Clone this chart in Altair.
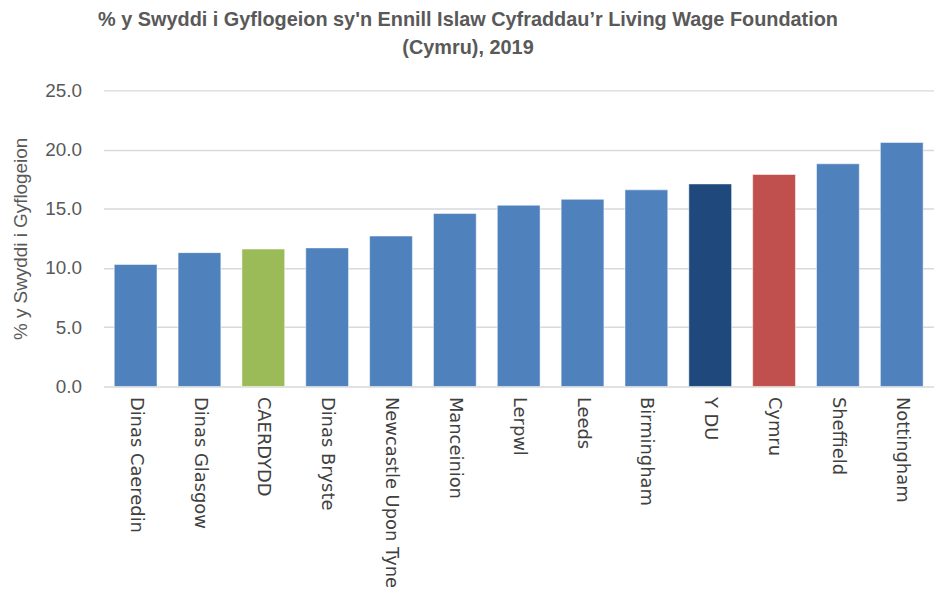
import altair as alt
import pandas as pd

categories = ["Dinas Caeredin", "Dinas Glasgow", "CAERDYDD", "Dinas Bryste",
              "Newcastle Upon Tyne", "Manceinion", "Lerpwl", "Leeds",
              "Birmingham", "Y DU", "Cymru", "Sheffield", "Nottingham"]
values = [10.3, 11.3, 11.6, 11.7, 12.7, 14.6, 15.3, 15.8, 16.6, 17.1, 17.9, 18.8, 20.6]
groups = ["city", "city", "cardiff", "city", "city", "city", "city", "city",
          "city", "uk", "wales", "city", "city"]

df = pd.DataFrame({"cat": categories, "val": values, "grp": groups})

color_scale = alt.Scale(domain=["city", "cardiff", "uk", "wales"],
                        range=["#4f81bd", "#9bbb59", "#1f497d", "#c0504d"])

chart = alt.Chart(df).mark_bar(stroke="#ffffff", strokeOpacity=0.5, strokeWidth=1).encode(
    x=alt.X("cat:N", sort=categories, title=None,
            scale=alt.Scale(paddingInner=0.33, paddingOuter=0.17),
            axis=alt.Axis(labelAngle=90, labelFont="DejaVu Sans", labelFontSize=18,
                          labelColor="#404040", labelPadding=10, ticks=False,
                          domain=False, labelAlign="left", labelBaseline="middle",
                          labelLimit=300)),
    y=alt.Y("val:Q", title="% y Swyddi i Gyflogeion",
            scale=alt.Scale(domain=[0, 25], nice=False),
            axis=alt.Axis(values=[0, 5, 10, 15, 20, 25], format=".1f",
                          labelFont="Liberation Sans", labelFontSize=19,
                          labelColor="#595959", labelPadding=22, ticks=False,
                          domain=False, gridColor="#d9d9d9", gridWidth=1.5,
                          titleFont="Liberation Sans", titleFontSize=19,
                          titleFontWeight="normal", titleColor="#595959",
                          titlePadding=14)),
    color=alt.Color("grp:N", scale=color_scale, legend=None),
).properties(
    width=836, height=298,
    title=alt.TitleParams(
        text=["% y Swyddi i Gyflogeion sy'n Ennill Islaw Cyfraddau\u2019r Living Wage Foundation",
              "(Cymru), 2019"],
        font="Liberation Sans", fontSize=20, fontWeight="bold", color="#595959",
        anchor="middle", dx=-51, offset=24, lineHeight=28),
    padding={"left": 96, "top": 81, "right": 0, "bottom": 210},
    autosize=alt.AutoSizeParams(type="none"),
).configure_view(stroke=None)

chart.save("out.html", embed_options={"renderer": "svg", "actions": False})
